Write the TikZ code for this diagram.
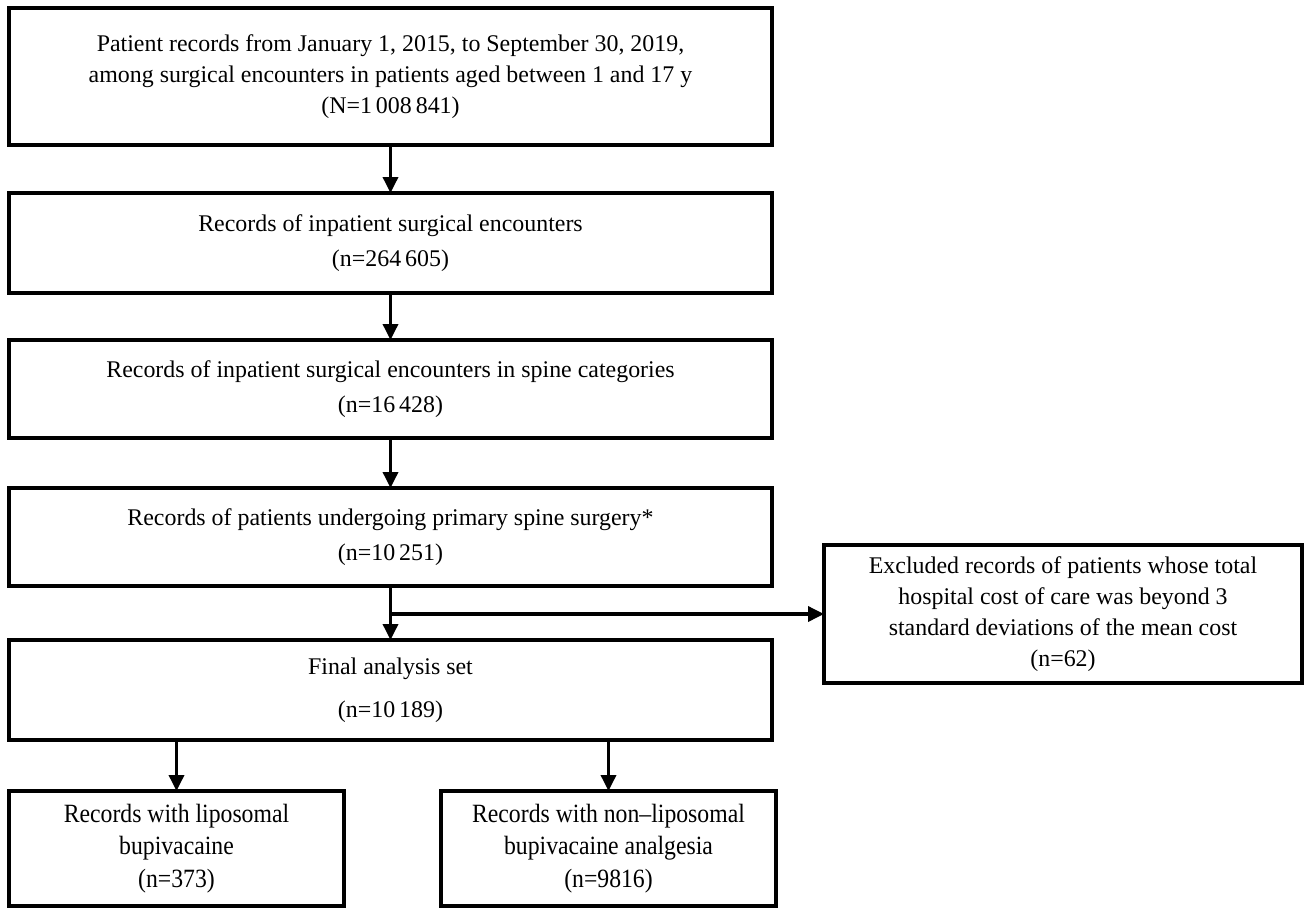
\documentclass[tikz,border=0pt]{standalone}
\usepackage{fontspec}
\setmainfont{Liberation Serif}
\newfontfamily\narrowfont[FakeStretch=0.9,Ligatures=TeX]{Liberation Serif}
\usetikzlibrary{arrows.meta}
\tikzset{
  box/.style={draw, line width=0.07cm, align=center, inner sep=0pt, outer sep=0pt,
    font=\fontsize{13.6}{17.6}\selectfont},
  groupbox/.style={box, minimum width=6.7cm, minimum height=2.3cm,
    font=\narrowfont\fontsize{15}{18.4}\selectfont},
  link/.style={line width=0.07cm, -{Triangle[length=0.32cm, width=0.3cm]}}
}
\begin{document}
\begin{tikzpicture}[line join=miter]
\useasboundingbox (0,0) rectangle (26.26,-18.32);
% main column
\node[box, minimum width=15.26cm, minimum height=2.74cm] (all) at (7.81,-1.53)
  {Patient records from January 1, 2015, to September 30, 2019,\\
   among surgical encounters in patients aged between 1 and 17 y\\
   (N=1\,008\,841)};
\node[box, minimum width=15.26cm, minimum height=2.0cm] (inpat) at (7.81,-4.86)
  {Records of inpatient surgical encounters\\[2pt] (n=264\,605)};
\node[box, minimum width=15.26cm, minimum height=1.96cm] (spine) at (7.81,-7.78)
  {Records of inpatient surgical encounters in spine categories\\[2pt] (n=16\,428)};
\node[box, minimum width=15.26cm, minimum height=1.96cm] (prim) at (7.81,-10.74)
  {Records of patients undergoing primary spine surgery*\\[2pt] (n=10\,251)};
\node[box, minimum width=15.26cm, minimum height=2.0cm] (final) at (7.81,-13.80)
  {Final analysis set\\[7pt] (n=10\,189)};
% exclusion
\node[box, minimum width=9.56cm, minimum height=2.76cm] (excl) at (21.26,-12.28)
  {Excluded records of patients whose total\\
   hospital cost of care was beyond 3\\
   standard deviations of the mean cost\\
   (n=62)};
% groups
\node[groupbox] (lipo) at (3.53,-16.97)
  {Records with liposomal\\ bupivacaine\\ (n=373)};
\node[groupbox] (nonlipo) at (12.17,-16.97)
  {Records with non\textendash liposomal\\ bupivacaine analgesia\\ (n=9816)};
% links
\draw[link] (all) -- (inpat);
\draw[link] (inpat) -- (spine);
\draw[link] (spine) -- (prim);
\draw[link] (prim) -- (final);
\coordinate (split) at (prim.south |- excl);
\draw[link] (split) -- (excl);
\draw[link] (final.south -| lipo) -- (lipo);
\draw[link] (final.south -| nonlipo) -- (nonlipo);
\end{tikzpicture}
\end{document}
